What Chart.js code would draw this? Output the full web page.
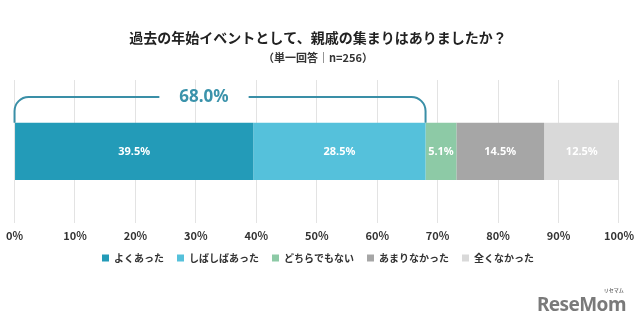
<!DOCTYPE html>
<html>
<head>
<meta charset="utf-8">
<script src="https://cdn.jsdelivr.net/npm/chart.js@4/dist/chart.umd.min.js"></script>
<style>
  html,body{margin:0;padding:0;background:#fff;}
  #wrap{position:relative;width:640px;height:322px;}
  #logo{position:absolute;left:537px;top:291px;font-family:'Noto Sans',sans-serif;font-weight:bold;font-size:19px;color:#7a7a7a;letter-spacing:-0.6px;}
  #logo small{position:absolute;right:2px;top:-5px;font-size:5px;font-family:'Noto Sans CJK JP';letter-spacing:0;}
</style>
</head>
<body>
<div id="wrap">
  <canvas id="c" width="640" height="322"></canvas>
  <div id="logo">ReseMom<small>リセマム</small></div>
</div>
<script>
const categories=['全体'];
const seriesNames=['よくあった','しばしばあった','どちらでもない','あまりなかった','全くなかった'];
const seriesValues=[39.5,28.5,5.1,14.5,12.5];
const seriesColors=['#239bb8','#55c1db','#8dcaa6','#a6a6a6','#d9d9d9'];
const tickValues=[0,10,20,30,40,50,60,70,80,90,100];
const bracketTotal=seriesValues[0]+seriesValues[1];

const JP="'Noto Sans CJK JP', sans-serif";

const labelPlugin={
  id:'segLabels',
  afterDatasetsDraw(chart){
    const ctx=chart.ctx;
    ctx.save();
    ctx.font="bold 11px 'Noto Sans', sans-serif";
    ctx.fillStyle='#fff';
    ctx.textAlign='center';
    ctx.textBaseline='middle';
    chart.data.datasets.forEach((ds,i)=>{
      const el=chart.getDatasetMeta(i).data[0];
      const cx=(el.x+el.base)/2;
      ctx.fillText(ds.data[0].toFixed(1)+'%',cx,el.y);
    });
    ctx.restore();
  }
};

const bracketPlugin={
  id:'bracket',
  afterDatasetsDraw(chart){
    const ctx=chart.ctx;
    const x=chart.scales.x;
    const el=chart.getDatasetMeta(0).data[0];
    const top=el.y-el.height/2;
    const x0=x.getPixelForValue(0), x1=x.getPixelForValue(bracketTotal);
    const ly=97, r=14;
    const label=bracketTotal.toFixed(1)+'%';
    ctx.save();
    ctx.font="bold 17px 'Noto Sans', sans-serif";
    const tx=204;
    const tw=ctx.measureText(label).width;
    ctx.strokeStyle='#3a8fa7';
    ctx.lineWidth=2;
    ctx.beginPath();
    ctx.moveTo(x0,top);
    ctx.lineTo(x0,ly+r);
    ctx.arcTo(x0,ly,x0+r,ly,r);
    ctx.lineTo(tx-tw/2-20,ly);
    ctx.moveTo(tx+tw/2+20,ly);
    ctx.lineTo(x1-r,ly);
    ctx.arcTo(x1,ly,x1,ly+r,r);
    ctx.lineTo(x1,top);
    ctx.stroke();
    ctx.fillStyle='#3b93ab';
    ctx.textAlign='center';
    ctx.textBaseline='middle';
    ctx.fillText(label,tx,ly);
    ctx.restore();
  }
};

// move the legend up a bit, closer to the tick labels
const legendShift={
  id:'legendShift',
  afterLayout(chart){
    chart.legend.top-=8;
    chart.legend.bottom-=8;
  }
};

new Chart(document.getElementById('c'),{
  type:'bar',
  data:{
    labels:categories,
    datasets:seriesNames.map((n,i)=>({
      label:n,
      data:[seriesValues[i]],
      backgroundColor:seriesColors[i],
      borderWidth:0,
      barPercentage:0.4,
      categoryPercentage:1
    }))
  },
  options:{
    responsive:false,
    devicePixelRatio:1,
    animation:false,
    indexAxis:'y',
    layout:{padding:{left:4,right:8,top:0,bottom:41}},
    scales:{
      x:{
        stacked:true,min:0,max:100,
        afterBuildTicks(s){ s.ticks=tickValues.map(v=>({value:v})); },
        ticks:{callback:v=>v+'%',color:'#333',font:{family:JP,size:11,weight:'bold'},padding:6,maxRotation:0},
        grid:{color:'#e3e3e3',drawTicks:false},
        border:{display:false}
      },
      y:{stacked:true,display:false}
    },
    plugins:{
      title:{display:true,text:'過去の年始イベントとして、親戚の集まりはありましたか？',color:'#222',font:{family:JP,size:14,weight:'bold'},padding:{top:29,bottom:2}},
      subtitle:{display:true,text:'（単一回答｜n=256）',color:'#333',font:{family:JP,size:11,weight:'bold'},padding:{top:3,bottom:16}},
      legend:{position:'bottom',labels:{boxWidth:7,boxHeight:7,color:'#333',font:{family:JP,size:10,weight:'bold'},padding:13}},
      tooltip:{enabled:false}
    }
  },
  plugins:[labelPlugin,bracketPlugin,legendShift]
});
</script>
</body>
</html>
